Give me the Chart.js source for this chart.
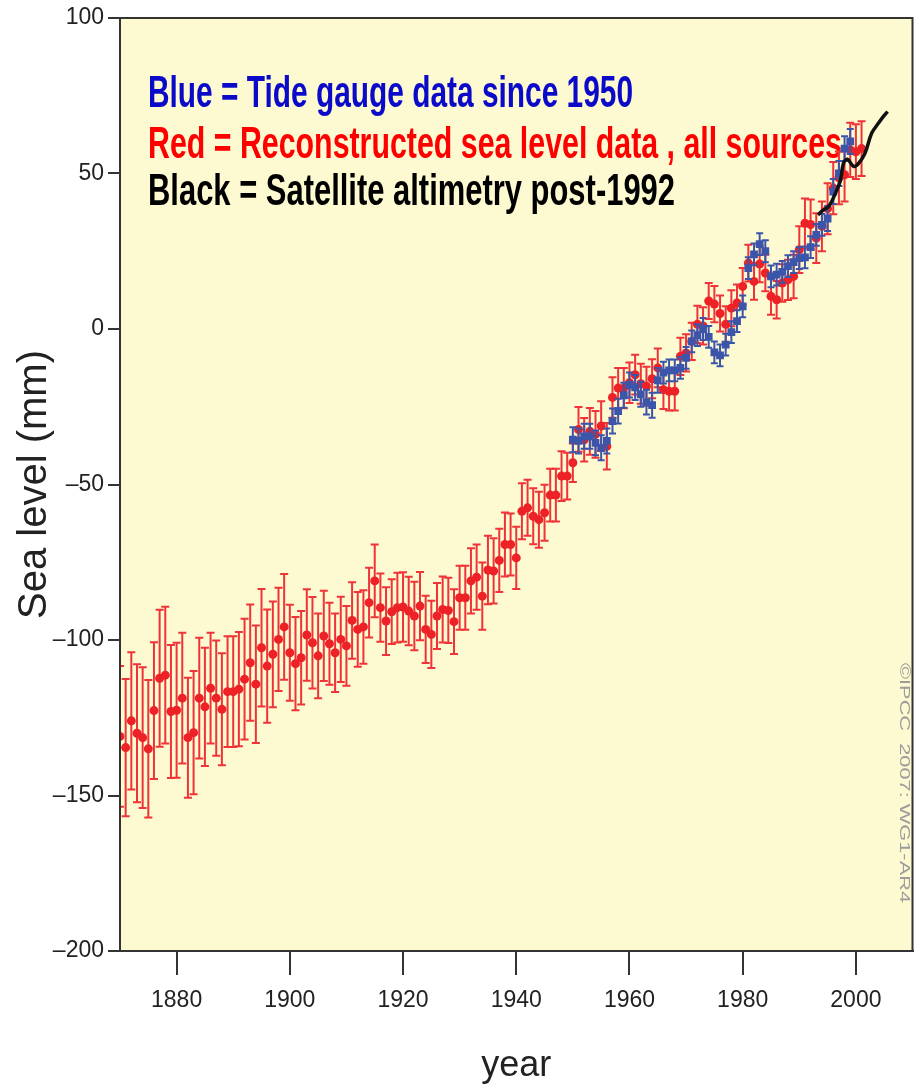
<!DOCTYPE html>
<html>
<head>
<meta charset="utf-8">
<script src="https://cdn.jsdelivr.net/npm/chart.js@4.4.1/dist/chart.umd.min.js"></script>
<style>
  html, body { margin: 0; padding: 0; background: #ffffff; }
</style>
</head>
<body>
<canvas id="seaLevel" width="918" height="1088"></canvas>
<script>
// reconstructed sea level (red), annual values, mm
const redYears = [
  1870, 1871, 1872, 1873, 1874, 1875, 1876, 1877, 1878, 1879,
  1880, 1881, 1882, 1883, 1884, 1885, 1886, 1887, 1888, 1889,
  1890, 1891, 1892, 1893, 1894, 1895, 1896, 1897, 1898, 1899,
  1900, 1901, 1902, 1903, 1904, 1905, 1906, 1907, 1908, 1909,
  1910, 1911, 1912, 1913, 1914, 1915, 1916, 1917, 1918, 1919,
  1920, 1921, 1922, 1923, 1924, 1925, 1926, 1927, 1928, 1929,
  1930, 1931, 1932, 1933, 1934, 1935, 1936, 1937, 1938, 1939,
  1940, 1941, 1942, 1943, 1944, 1945, 1946, 1947, 1948, 1949,
  1950, 1951, 1952, 1953, 1954, 1955, 1956, 1957, 1958, 1959,
  1960, 1961, 1962, 1963, 1964, 1965, 1966, 1967, 1968, 1969,
  1970, 1971, 1972, 1973, 1974, 1975, 1976, 1977, 1978, 1979,
  1980, 1981, 1982, 1983, 1984, 1985, 1986, 1987, 1988, 1989,
  1990, 1991, 1992, 1993, 1994, 1995, 1996, 1997, 1998, 1999,
  2000, 2001
]
const redLevel = [
  -131, -134.6, -126, -130, -131.4, -135, -122.7, -112.3, -111.3, -123,
  -122.6, -118.7, -131.4, -129.8, -118.7, -121.5, -115.5, -118.7, -122.3, -116.6,
  -116.6, -115.8, -112.6, -107.3, -114.2, -102.5, -108.4, -104.6, -99.8, -95.8,
  -104.1, -107.6, -105.7, -98.4, -100.9, -105.1, -98.7, -101.2, -104.1, -99.8,
  -101.9, -93.7, -96.6, -95.8, -88, -81, -89.6, -93.9, -90.9, -89.6,
  -89.4, -90.7, -92.3, -89.1, -96.6, -98.2, -92.3, -90.2, -90.5, -94.1,
  -86.4, -86.4, -81, -79.8, -85.9, -77.5, -77.8, -74.4, -69.3, -69.3,
  -73.6, -58.6, -57.5, -60.2, -61.3, -59.1, -53.4, -53.4, -47.3, -47.3,
  -43, -32.3, -35.6, -32.9, -33.9, -31.2, -37.7, -22, -19, -19,
  -17.3, -14.7, -17.6, -18.4, -16, -12.5, -19.5, -20, -20, -8.8,
  -7.7, -4, 1.5, 1, 9, 8, 5, 1.5, 6.7, 8.4,
  13.7, 21.2, 15.3, 20.9, 18, 10.5, 9.4, 14.8, 15.8, 16.9,
  25.5, 34, 33.6, 29.2, 33, 38.7, 45.3, 48.6, 49.6, 57.6,
  57, 58
]
// half length of the red error bars, mm
const redErr = [
  22.6, 22.1, 22.1, 22.2, 22.6, 22.1, 22, 22, 22, 21.4,
  21.7, 21, 19.3, 19.8, 19.4, 19, 17.8, 18.5, 18, 17.8,
  17.8, 18.4, 19.4, 18.7, 18.9, 18.9, 18.2, 17, 16.6, 17,
  15.4, 15, 15, 14.7, 14.7, 13.6, 14.5, 13.2, 12.6, 13.7,
  12.8, 12.3, 12, 11.8, 11.2, 11.7, 11, 10.9, 10.4, 11.2,
  11.2, 11, 11, 11, 10.8, 10.8, 10.6, 10.6, 10.5, 10.4,
  10.3, 10.3, 10.5, 10.5, 10.8, 11, 10.5, 10.2, 10.3, 10,
  10, 9, 9, 9, 9, 9, 8.5, 8.5, 8, 7.5,
  6.2, 7.2, 7, 7.5, 7.5, 8, 7.5, 6.5, 6.5, 6.5,
  6.5, 6.4, 6.4, 6.3, 6.3, 6.2, 6.2, 6.2, 6.2, 6,
  6, 6, 6, 6, 5.8, 5.8, 5.8, 5.8, 5.8, 5.9,
  5.9, 5.9, 5.9, 5.9, 5.9, 5.9, 6, 6, 6.5, 7,
  7.5, 8, 8, 8, 8, 8.2, 8.4, 8.5, 8.6, 8.7,
  8.8, 8.8
]

// tide gauge data (blue)
const blueYears = [
  1950, 1951, 1952, 1953, 1954, 1955, 1956, 1957, 1958, 1959,
  1960, 1961, 1962, 1963, 1964, 1965, 1966, 1967, 1968, 1969,
  1970, 1971, 1972, 1973, 1974, 1975, 1976, 1977, 1978, 1979,
  1980, 1981, 1982, 1983, 1984, 1985, 1986, 1987, 1988, 1989,
  1990, 1991, 1992, 1993, 1994, 1995, 1996, 1997, 1998, 1999
]
const blueLevel = [
  -35.6, -36, -34.5, -34.5, -36.6, -38.2, -36, -29.6, -26.4, -21.3,
  -18, -18.8, -21, -23.5, -24.5, -16.5, -14, -13.3, -13.3, -12.5,
  -9.3, -4, -2, 0, -2.5, -7.5, -8.5, -5, -1, 2.5,
  7.3, 19.6, 24, 27.3, 25, 16.9, 17.5, 18.4, 20.2, 21.5,
  22.8, 23, 26.3, 30.3, 33.5, 35.5, 44.2, 50, 58, 60.3
]
const blueErr = [
  4, 4, 4, 4, 4, 4, 4, 4, 4, 4,
  4, 4, 4, 4, 4, 4, 3.5, 3.5, 3.5, 3.5,
  3.5, 3.5, 3.5, 3.5, 3.5, 3.5, 3.5, 3.5, 3.5, 3.5,
  3.5, 3.5, 3.5, 3.5, 3.5, 3.5, 3.5, 3.5, 3.5, 3.5,
  3.5, 3.5, 3.5, 3.5, 3.5, 4, 4, 4, 4, 4
]

// satellite altimetry (black)
const satYears = [1993.3, 1994.2, 1995.2, 1996.4, 1997.3, 1997.8, 1998.5, 1999.6, 2000.5, 2001.6, 2002.8, 2004.0, 2004.8, 2005.6]
const satLevel = [36.7, 38.2, 39.4, 43.7, 48, 53.3, 54.6, 52.3, 53.3, 56.5, 63, 66.2, 68.2, 69.9]

const xTicks = [1880, 1900, 1920, 1940, 1960, 1980, 2000]

const legendLines = [
  { text: 'Blue = Tide gauge data since 1950', color: '#0a0ac8' },
  { text: 'Red = Reconstructed sea level data , all sources', color: '#ff0000' },
  { text: 'Black = Satellite altimetry post-1992', color: '#000000' },
]
const creditText = '\u00a9IPCC  2007: WG1-AR4'

const axisFont = "'Liberation Sans Narrow', 'Arial Narrow', 'Liberation Sans', Arial, sans-serif"
const plainFont = "'Liberation Sans', Arial, sans-serif"

function toPoints(xs, ys) {
  return xs.map((x, i) => ({ x: x, y: ys[i] }))
}

// yellow plot area
const plotBackground = {
  id: 'plotBackground',
  beforeDraw(chart) {
    const a = chart.chartArea
    const ctx = chart.ctx
    ctx.save()
    ctx.fillStyle = '#fdf9d1'
    ctx.fillRect(a.left, a.top, a.right - a.left, a.bottom - a.top)
    ctx.restore()
  }
}

// vertical error bars with caps, drawn just under the dataset's own points
const errorBars = {
  id: 'errorBars',
  beforeDatasetDraw(chart, args) {
    const ds = chart.data.datasets[args.index]
    if (!ds.errors) return
    const xs = chart.scales.x
    const ys = chart.scales.y
    const a = chart.chartArea
    const ctx = chart.ctx
    ctx.save()
    ctx.beginPath()
    ctx.rect(a.left, a.top, a.right - a.left, a.bottom - a.top)
    ctx.clip()
    ctx.strokeStyle = ds.errorColor
    ctx.lineWidth = 2
    const cap = ds.capHalf
    ds.data.forEach((p, i) => {
      const px = xs.getPixelForValue(p.x)
      const lo = ys.getPixelForValue(p.y - ds.errors[i])
      const hi = ys.getPixelForValue(p.y + ds.errors[i])
      ctx.beginPath()
      ctx.moveTo(px, lo)
      ctx.lineTo(px, hi)
      ctx.moveTo(px - cap, lo)
      ctx.lineTo(px + cap, lo)
      ctx.moveTo(px - cap, hi)
      ctx.lineTo(px + cap, hi)
      ctx.stroke()
    })
    ctx.restore()
  }
}

// the three coloured explanation lines and the credit, inside the plot
const annotations = {
  id: 'annotations',
  beforeDatasetsDraw(chart) {
    const ctx = chart.ctx
    const rows = [
      { y: 107, w: 485 },
      { y: 158, w: 694 },
      { y: 205, w: 527 },
    ]
    ctx.save()
    ctx.font = "bold 44px 'Liberation Sans Narrow', 'Liberation Sans', sans-serif"
    ctx.textBaseline = 'alphabetic'
    legendLines.forEach((line, i) => {
      const m = ctx.measureText(line.text).width
      ctx.save()
      ctx.translate(148, rows[i].y)
      ctx.scale(rows[i].w / m, 1)
      ctx.fillStyle = line.color
      ctx.fillText(line.text, 0, 0)
      ctx.restore()
    })

    ctx.font = '14px ' + plainFont
    ctx.fillStyle = '#9c9c9c'
    ctx.textBaseline = 'middle'
    const cw = ctx.measureText(creditText).width
    ctx.translate(904, 663)
    ctx.rotate(Math.PI / 2)
    ctx.scale(240 / cw, 1)
    ctx.fillText(creditText, 0, 0)
    ctx.restore()
  },
  afterDraw(chart) {
    const a = chart.chartArea
    const ctx = chart.ctx
    ctx.save()
    ctx.strokeStyle = '#333333'
    ctx.lineWidth = 2
    ctx.strokeRect(a.left, a.top, a.right - a.left, a.bottom - a.top)
    ctx.restore()
  }
}

new Chart(document.getElementById('seaLevel'), {
  type: 'scatter',
  data: {
    datasets: [
      {
        label: 'Satellite altimetry',
        type: 'line',
        data: toPoints(satYears, satLevel),
        borderColor: '#111111',
        borderWidth: 3.5,
        pointRadius: 0,
        tension: 0.35,
        fill: false,
        order: 0,
      },
      {
        label: 'Tide gauge',
        data: toPoints(blueYears, blueLevel),
        pointStyle: 'rect',
        pointRadius: 5.5,
        backgroundColor: '#3b55aa',
        borderWidth: 0,
        errors: blueErr,
        errorColor: '#3b55aa',
        capHalf: 3.5,
        order: 1,
      },
      {
        label: 'Reconstructed',
        data: toPoints(redYears, redLevel),
        pointStyle: 'circle',
        pointRadius: 4.5,
        backgroundColor: '#ec2227',
        borderWidth: 0,
        errors: redErr,
        errorColor: '#ef3338',
        capHalf: 4,
        order: 2,
      },
    ]
  },
  options: {
    responsive: false,
    animation: false,
    events: [],
    layout: { padding: { left: 0, right: 3, top: 18, bottom: 0 } },
    plugins: {
      legend: { display: false },
      tooltip: { enabled: false },
    },
    scales: {
      x: {
        type: 'linear',
        min: 1870,
        max: 2010,
        afterBuildTicks: (axis) => { axis.ticks = xTicks.map((v) => ({ value: v })) },
        afterFit: (axis) => { axis.height = 137 },
        grid: { drawOnChartArea: false, drawTicks: true, tickLength: 24, color: '#333333', lineWidth: 2 },
        border: { display: true, color: '#333333', width: 2 },
        ticks: {
          color: '#222222',
          padding: 12,
          maxRotation: 0,
          font: { family: axisFont, size: 23 },
          callback: (v) => String(v),
        },
        title: {
          display: true,
          text: 'year',
          color: '#222222',
          font: { family: plainFont, size: 36 },
          padding: { top: 0, bottom: 0 },
        },
      },
      y: {
        min: -200,
        max: 100,
        afterFit: (axis) => { axis.width = 120 },
        grid: { drawOnChartArea: false, drawTicks: true, tickLength: 12, color: '#333333', lineWidth: 2 },
        border: { display: true, color: '#333333', width: 2 },
        ticks: {
          stepSize: 50,
          color: '#222222',
          padding: 4,
          font: { family: axisFont, size: 23 },
          callback: (v) => (v < 0 ? '\u2013' + Math.abs(v) : String(v)),
        },
        title: {
          display: true,
          text: 'Sea level (mm)',
          color: '#222222',
          font: { family: plainFont, size: 40 },
          padding: { top: 11, bottom: 0 },
        },
      },
    },
  },
  plugins: [plotBackground, errorBars, annotations],
})
</script>
</body>
</html>
